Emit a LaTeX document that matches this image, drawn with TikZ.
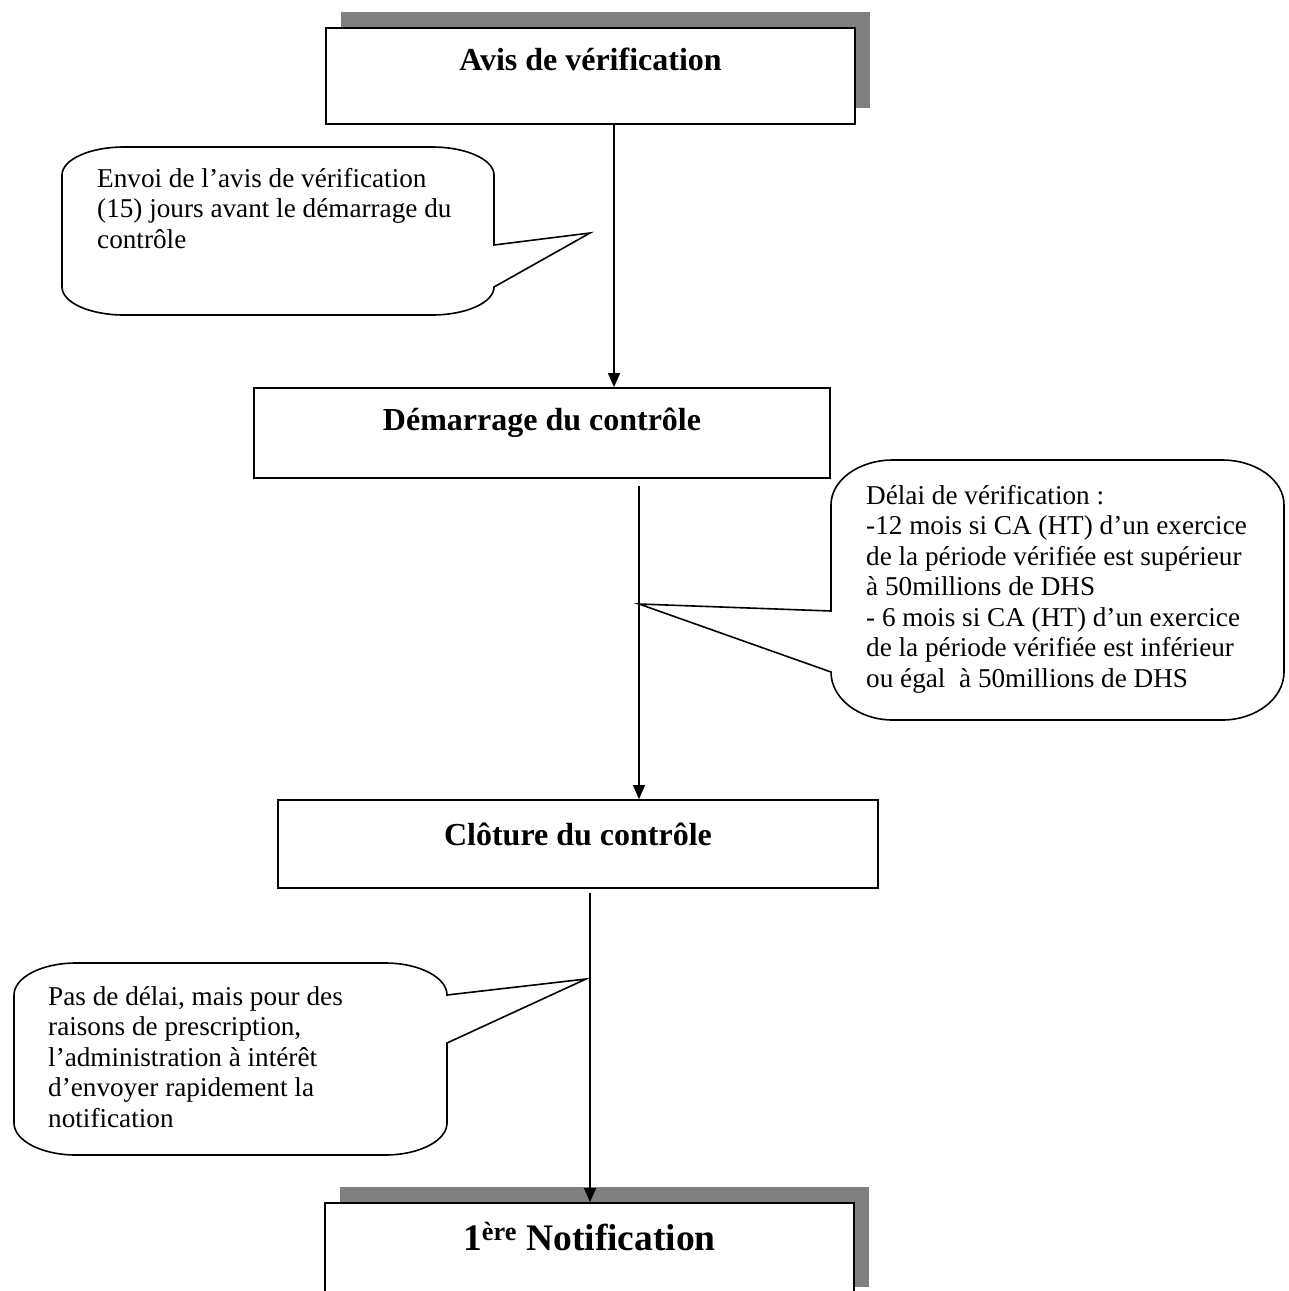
\documentclass[tikz,border=0pt]{standalone}
\usepackage{fontspec}
\setmainfont{Liberation Serif}
\usetikzlibrary{arrows.meta,shadows}
\definecolor{shadowgray}{RGB}{128,128,128}
\tikzset{
  stepbox/.style={draw=black, line width=1.8pt, fill=white, inner sep=0pt,
    font=\fontsize{32}{36}\selectfont\bfseries},
  shadowed/.style={general shadow={fill=shadowgray, shadow xshift=15pt, shadow yshift=16pt}},
  callout/.style={draw=black, line width=1.6pt, fill=white, line join=miter},
  note/.style={anchor=base west, align=left, inner sep=0pt,
    font=\fontsize{27.2}{30.5}\selectfont},
  arr/.style={line width=1.5pt, -{Triangle[length=14pt,width=12pt]}},
}
\begin{document}
\begin{tikzpicture}[x=1pt,y=-1pt]
\useasboundingbox (0,0) rectangle (1289,1291);
\clip (0,0) rectangle (1289,1291);

% callout 1
\draw[callout] (124,147) -- (432,147)
  .. controls (466.2,147) and (494,159.5) .. (494,175) -- (494,245)
  -- (590,233) -- (494,287)
  .. controls (494,302.5) and (466.2,315) .. (432,315) -- (124,315)
  .. controls (89.8,315) and (62,302.5) .. (62,287) -- (62,175)
  .. controls (62,159.5) and (89.8,147) .. cycle;
\node[note] (n1) at (97,248) {Envoi de l’avis de vérification\\(15) jours avant le démarrage du\\contrôle};

% callout 2
\draw[callout] (893,460) -- (1222,460)
  .. controls (1256.2,460) and (1284,480.1) .. (1284,505) -- (1284,672)
  .. controls (1284,698.5) and (1256.2,720) .. (1222,720) -- (893,720)
  .. controls (858.8,720) and (831,698.5) .. (831,672)
  -- (639,604) -- (831,611) -- (831,505)
  .. controls (831,480.1) and (858.8,460) .. cycle;
\node[note] (n2) at (866,687) {Délai de vérification :\\-12 mois si CA (HT) d’un exercice\\de la période vérifiée est supérieur\\à 50millions de DHS\\- 6 mois si CA (HT) d’un exercice\\de la période vérifiée est inférieur\\ou égal\ \ à 50millions de DHS};

% callout 3
\draw[callout] (76,963) -- (385,963)
  .. controls (419.2,963) and (447,977.3) .. (447,995)
  -- (586,979) -- (447,1043) -- (447,1123)
  .. controls (447,1140.7) and (419.2,1155) .. (385,1155) -- (76,1155)
  .. controls (41.8,1155) and (14,1140.7) .. (14,1123) -- (14,995)
  .. controls (14,977.3) and (41.8,963) .. cycle;
\node[note] (n3) at (48,1127) {Pas de délai, mais pour des\\raisons de prescription,\\l’administration à intérêt\\d’envoyer rapidement la\\notification};

% boxes
\node[stepbox, shadowed, minimum width=529pt, minimum height=96pt,
  text height=42pt, text depth=54pt] (avis) at (590.5,76) {Avis de vérification};
\node[stepbox, minimum width=576pt, minimum height=90pt,
  text height=42pt, text depth=48pt] (dem) at (542,433) {Démarrage du contrôle};
\node[stepbox, minimum width=600pt, minimum height=88pt,
  text height=45pt, text depth=43pt] (clo) at (578,844) {Clôture du contrôle};
\node[stepbox, shadowed, minimum width=529pt, minimum height=100pt,
  text height=47pt, text depth=53pt, font=\fontsize{37.5}{40}\selectfont\bfseries]
  (notif) at (589.5,1253) {1\textsuperscript{ère} Notification};

% arrows
\draw[arr] (avis.south -| 614,0) -- (dem.north -| 614,0);
\draw[arr, shorten <=7pt] (dem.south -| 639,0) -- (clo.north -| 639,0);
\draw[arr, shorten <=4pt] (clo.south -| 590,0) -- (notif.north -| 590,0);
\end{tikzpicture}
\end{document}
